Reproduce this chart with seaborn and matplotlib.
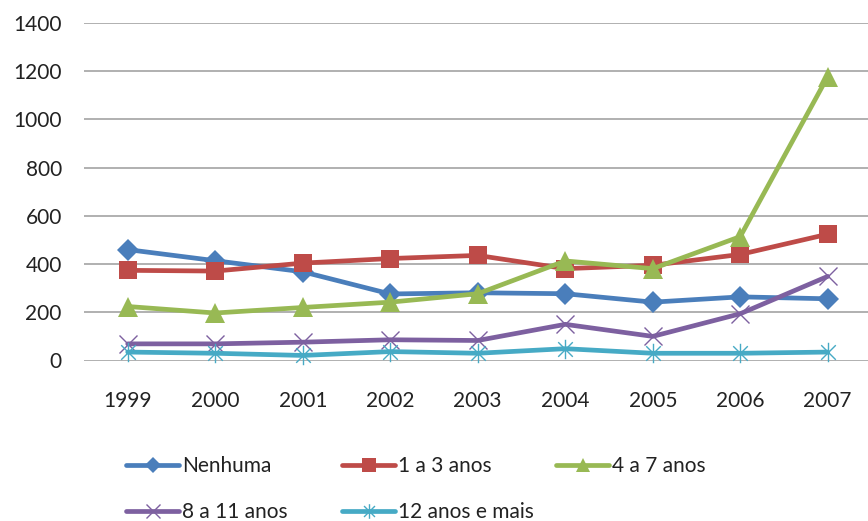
import numpy as np
import pandas as pd
import matplotlib
matplotlib.use("Agg")
import matplotlib.pyplot as plt
from matplotlib.path import Path
import seaborn as sns

years = [1999, 2000, 2001, 2002, 2003, 2004, 2005, 2006, 2007]

nenhuma = [460, 414, 368, 276, 281, 277, 242, 264, 256]
anos_1_3 = [374, 371, 404, 423, 436, 381, 395, 440, 524]
anos_4_7 = [224, 197, 220, 242, 277, 413, 381, 514, 1178]
anos_8_11 = [69, 69, 76, 86, 83, 150, 100, 194, 349]
anos_12_mais = [35, 30, 21, 37, 30, 49, 30, 30, 35]

labels = ["Nenhuma", "1 a 3 anos", "4 a 7 anos", "8 a 11 anos", "12 anos e mais"]
series = [nenhuma, anos_1_3, anos_4_7, anos_8_11, anos_12_mais]
colors = ["#4A7EBB", "#BE4B48", "#98B954", "#7D60A0", "#46AAC5"]

# asterisk marker: vertical stroke plus two diagonals
asterisk = Path(
    [(0, -1), (0, 1), (-0.75, -0.75), (0.75, 0.75), (-0.75, 0.75), (0.75, -0.75)],
    [Path.MOVETO, Path.LINETO, Path.MOVETO, Path.LINETO, Path.MOVETO, Path.LINETO],
)
marker_specs = [
    dict(marker="D", markersize=11, markeredgewidth=0),
    dict(marker="s", markersize=13, markeredgewidth=0),
    dict(marker="^", markersize=14, markeredgewidth=0),
    dict(marker="x", markersize=13, markeredgewidth=1.0),
    dict(marker=asterisk, markersize=14, markeredgewidth=1.0),
]

sns.set_theme(style="white")
plt.rcParams["font.family"] = ["Lato", "DejaVu Sans"]

W, H = 868, 521
fig = plt.figure(figsize=(W / 100, H / 100), dpi=100)
ax = fig.add_axes([84 / W, (H - 360.5) / H, (W - 84) / W, (360.5 - 23) / H])

df = pd.DataFrame({
    "ano": np.tile(years, len(labels)),
    "valor": np.concatenate(series),
    "serie": np.repeat(labels, len(years)),
})

for lab, col, spec in zip(labels, colors, marker_specs):
    sub = df[df["serie"] == lab]
    sns.lineplot(
        data=sub, x="ano", y="valor", ax=ax, color=col, linewidth=3.4,
        markeredgecolor=col, label=lab, legend=False, clip_on=False,
        zorder=3, **spec,
    )

ax.set_xlim(1998.5, 1998.5 + (W - 84) / 87.5)
ax.set_ylim(0, 1400)
ax.set_yticks(range(0, 1401, 200))
ax.set_xticks(years)
ax.set_xlabel("")
ax.set_ylabel("")
ax.grid(axis="y", color="#A3A3A3", linewidth=1.2)
ax.grid(axis="x", visible=False)
ax.set_axisbelow(True)
for s in ax.spines.values():
    s.set_visible(False)
ax.tick_params(axis="y", length=0, pad=16, labelsize=15, labelcolor="#222222")
ax.tick_params(axis="x", length=0, pad=22, labelsize=15, labelcolor="#222222")

handles = ax.get_lines()[: len(labels)]
positions = [(126, 466.5), (342, 466.5), (556, 466.5), (126, 512), (342, 512)]
for h, lab, (px, py) in zip(handles, labels, positions):
    fig.legend(
        [h], [lab], loc="center left", bbox_to_anchor=(px / W, 1 - py / H),
        frameon=False, borderpad=0, borderaxespad=0, handlelength=2.55,
        handletextpad=0.15, markerscale=0.75, fontsize=15,
        labelcolor="#222222",
    )

fig.savefig("out.png", dpi=100)
